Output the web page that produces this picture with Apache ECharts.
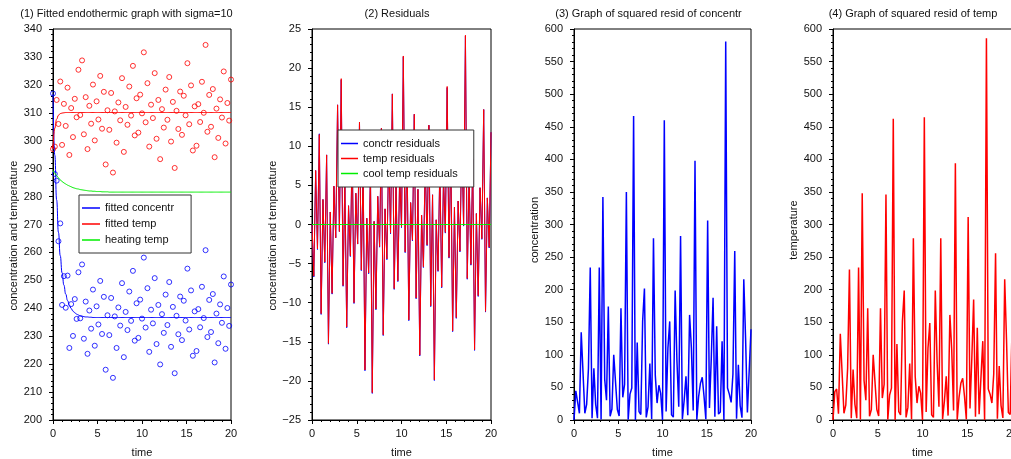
<!DOCTYPE html>
<html>
<head>
<meta charset="utf-8">
<title>Endothermic fit and residuals</title>
<script src="https://cdn.jsdelivr.net/npm/echarts@6/dist/echarts.min.js"></script>
<style>
  html, body { margin: 0; padding: 0; background: #fff; }
  #chart { width: 1011px; height: 459px; }
</style>
</head>
<body>
<div id="chart"></div>
<script>
// Sampling times of the measurements (0 .. 20, 99 samples)
const time = [
  0.000, 0.204, 0.408, 0.612, 0.816, 1.020, 1.224, 1.429, 1.633, 1.837,
  2.041, 2.245, 2.449, 2.653, 2.857, 3.061, 3.265, 3.469, 3.673, 3.878,
  4.082, 4.286, 4.490, 4.694, 4.898, 5.102, 5.306, 5.510, 5.714, 5.918,
  6.122, 6.327, 6.531, 6.735, 6.939, 7.143, 7.347, 7.551, 7.755, 7.959,
  8.163, 8.367, 8.571, 8.776, 8.980, 9.184, 9.388, 9.592, 9.796, 10.000,
  10.204, 10.408, 10.612, 10.816, 11.020, 11.224, 11.429, 11.633, 11.837, 12.041,
  12.245, 12.449, 12.653, 12.857, 13.061, 13.265, 13.469, 13.673, 13.878, 14.082,
  14.286, 14.490, 14.694, 14.898, 15.102, 15.306, 15.510, 15.714, 15.918, 16.122,
  16.327, 16.531, 16.735, 16.939, 17.143, 17.347, 17.551, 17.755, 17.959, 18.163,
  18.367, 18.571, 18.776, 18.980, 19.184, 19.388, 19.592, 19.796, 20.000
];

// Fitted model curves at the sampling times
const fittedConcentr = [
  316.9, 294.8, 278.8, 267.2, 258.8, 252.7, 248.3, 245.1, 242.8, 241.1,
  239.9, 239.0, 238.4, 237.9, 237.6, 237.3, 237.2, 237.0, 236.9, 236.9,
  236.8, 236.8,
  236.7, 236.7, 236.7, 236.7, 236.7, 236.7, 236.7, 236.7, 236.7, 236.7, 236.7,
  236.7, 236.7, 236.7, 236.7, 236.7, 236.7, 236.7, 236.7, 236.7, 236.7, 236.7,
  236.7, 236.7, 236.7, 236.7, 236.7, 236.7, 236.7, 236.7, 236.7, 236.7, 236.7,
  236.7, 236.7, 236.7, 236.7, 236.7, 236.7, 236.7, 236.7, 236.7, 236.7, 236.7,
  236.7, 236.7, 236.7, 236.7, 236.7, 236.7, 236.7, 236.7, 236.7, 236.7, 236.7,
  236.7, 236.7, 236.7, 236.7, 236.7, 236.7, 236.7, 236.7, 236.7, 236.7, 236.7,
  236.7, 236.7, 236.7, 236.7, 236.7, 236.7, 236.7, 236.7, 236.7, 236.7, 236.7
];
const fittedTemp = [
  297.0, 304.5, 307.7, 309.1, 309.7, 309.9, 310.0,
  310.1, 310.1, 310.1, 310.1, 310.1, 310.1, 310.1, 310.1, 310.1, 310.1, 310.1,
  310.1, 310.1, 310.1, 310.1, 310.1, 310.1, 310.1, 310.1, 310.1, 310.1, 310.1,
  310.1, 310.1, 310.1, 310.1, 310.1, 310.1, 310.1, 310.1, 310.1, 310.1, 310.1,
  310.1, 310.1, 310.1, 310.1, 310.1, 310.1, 310.1, 310.1, 310.1, 310.1, 310.1,
  310.1, 310.1, 310.1, 310.1, 310.1, 310.1, 310.1, 310.1, 310.1, 310.1, 310.1,
  310.1, 310.1, 310.1, 310.1, 310.1, 310.1, 310.1, 310.1, 310.1, 310.1, 310.1,
  310.1, 310.1, 310.1, 310.1, 310.1, 310.1, 310.1, 310.1, 310.1, 310.1, 310.1,
  310.1, 310.1, 310.1, 310.1, 310.1, 310.1, 310.1, 310.1, 310.1, 310.1, 310.1,
  310.1, 310.1, 310.1, 310.1
];
const heatingTemp = [
  289.4, 288.4, 287.5, 286.7, 286.0, 285.4, 284.9, 284.5, 284.1, 283.8,
  283.5, 283.2, 283.0, 282.8, 282.7, 282.5, 282.4, 282.3, 282.2, 282.1,
  282.0, 282.0, 281.9, 281.9, 281.8, 281.8, 281.8, 281.7, 281.7, 281.7, 281.7,
  281.6, 281.6, 281.6, 281.6, 281.6, 281.6, 281.6, 281.6, 281.6, 281.6, 281.6,
  281.6, 281.6, 281.6, 281.6, 281.6, 281.6, 281.6, 281.6, 281.6, 281.6, 281.6,
  281.6, 281.6, 281.6, 281.6, 281.6, 281.6, 281.6, 281.6, 281.6, 281.6, 281.6,
  281.6, 281.6, 281.6, 281.6, 281.6, 281.6, 281.6, 281.6, 281.6, 281.6, 281.6,
  281.6, 281.6, 281.6, 281.6, 281.6, 281.6, 281.6, 281.6, 281.6, 281.6, 281.6,
  281.6, 281.6, 281.6, 281.6, 281.6, 281.6, 281.6, 281.6, 281.6, 281.6, 281.6,
  281.6, 281.6
];

// Residuals (measurement minus fitted value)
const concResid = [
  0.0, -6.7, 6.9, -3.2, 11.6, -11.5, 3.2, -4.9, 8.9, -15.3,
  1.6, -8.9, 4.9, -1.7, 15.3, -0.9, 18.5, -7.9, 5.5, -13.2,
  2.4, -4.1, 10.0, -10.1, 4.0, -2.5, 13.1, -5.9, 7.4, -18.7,
  0.8, -6.3, 7.0, -21.6, 0.4, -10.9, 3.6, -2.9, 12.3, -14.2,
  2.0, -4.5, 9.3, -1.2, 16.7, -8.3, 5.1, -7.3, 6.4, -0.4,
  21.45, -3.6, 10.5, -12.3, 2.8, -2.1, 14.1, -9.5, 4.5, -16.8,
  1.2, -5.5, 8.2, -2.7, 12.7, -10.5, 3.8, -19.95, 0.6, -6.0,
  7.5, -8.1, 6.0, -1.1, 17.5, -4.3, 9.7, -13.7, 2.2, -12.0,
  3.0, -3.5, 11.0, -0.2, 24.1, -7.0, 6.3, -5.2, 8.4, -16.1,
  1.4, -9.2, 4.7, -1.9, 14.7, -11.2, 3.4, -3.0, 11.8
];
const tempResid = [
  0.0, -6.6, 6.9, -3.1, 11.5, -11.4, 3.2, -4.8, 8.9, -15.2,
  1.6, -8.8, 4.9, -1.7, 15.3, -0.9, 18.65, -7.8, 5.5, -13.1,
  2.4, -4.0, 10.0, -10.0, 4.0, -2.5, 13.1, -5.8, 7.4, -18.6,
  0.8, -6.2, 7.0, -21.5, 0.4, -10.8, 3.6, -2.8, 12.3, -14.1,
  2.0, -4.4, 9.3, -1.1, 16.7, -8.2, 5.1, -7.2, 6.4, -0.3,
  21.55, -3.5, 10.5, -12.2, 2.8, -2.0, 14.1, -9.4, 4.5, -16.7,
  1.2, -5.4, 8.2, -2.6, 12.7, -10.4, 3.8, -19.85, 0.6, -5.9,
  7.5, -8.0, 6.0, -1.0, 17.65, -4.2, 9.7, -13.6, 2.2, -11.9,
  3.0, -3.4, 11.0, -0.1, 24.2, -6.9, 6.3, -5.1, 8.4, -16.0,
  1.4, -9.1, 4.7, -1.8, 14.7, -11.1, 3.4, -2.9, 11.8
];
const coolTempResid = [
  0, 0, 0, 0, 0, 0, 0, 0, 0, 0, 0, 0, 0, 0, 0, 0, 0, 0, 0, 0,
  0, 0, 0, 0, 0, 0, 0, 0, 0, 0, 0, 0, 0, 0, 0, 0, 0, 0, 0, 0,
  0, 0, 0, 0, 0, 0, 0, 0, 0, 0, 0, 0, 0, 0, 0, 0, 0, 0, 0, 0,
  0, 0, 0, 0, 0, 0, 0, 0, 0, 0, 0, 0, 0, 0, 0, 0, 0, 0, 0, 0,
  0, 0, 0, 0, 0, 0, 0, 0, 0, 0, 0, 0, 0, 0, 0, 0, 0, 0, 0
];

const panelTitles = [
  '(1) Fitted endothermic graph with sigma=10',
  '(2) Residuals',
  '(3) Graph of squared resid of concentr',
  '(4) Graph of squared resid of temp'
];
const yNames = ['concentration and temperature', 'concentration and temperature', 'concentration', 'temperature'];

// Derived series: measurements and squared residuals
const measuredConcentr = fittedConcentr.map((f, i) => f + concResid[i]);
const measuredTemp = fittedTemp.map((f, i) => f + tempResid[i]);
const concSquared = concResid.map(r => r * r);
const tempSquared = tempResid.map(r => r * r);

const pts = ys => ys.map((y, i) => [time[i], y]);

const FONT = '"Liberation Sans", Arial, Helvetica, sans-serif';
const TXT = '#111';
const BLUE = '#0000ff', RED = '#ff0000', GREEN = '#00ee00';

const gridBoxes = [
  { left: 53, top: 29, width: 178, height: 391 },
  { left: 312, top: 29, width: 179, height: 391 },
  { left: 574, top: 29, width: 177, height: 391 },
  { left: 833, top: 29, width: 179, height: 391 }
];
const titleCenters = [126.5, 397, 648.5, 913];
// extra right padding on the rotated y names moves them a little below the axis middle
const yNameShift = [22, 22, 11, 11];
const yRanges = [
  { min: 200, max: 340, interval: 10 },
  { min: -25, max: 25, interval: 5 },
  { min: 0, max: 600, interval: 50 },
  { min: 0, max: 600, interval: 50 }
];

const fmt = v => (v < 0 ? '\u2212' + Math.abs(v) : String(v));

const legendBase = {
  orient: 'vertical', icon: 'rect', itemWidth: 18, itemHeight: 1.5, itemGap: 0,
  backgroundColor: '#fff', borderColor: '#333', borderWidth: 1,
  selectedMode: false
};

const option = {
  animation: false,
  backgroundColor: '#fff',
  textStyle: { fontFamily: FONT },
  title: panelTitles.map((t, k) => ({
    text: t, left: titleCenters[k], top: 8, textAlign: 'center', padding: 0,
    textStyle: { fontSize: 11, fontWeight: 'normal', color: TXT, fontFamily: FONT }
  })),
  grid: gridBoxes.map(g => Object.assign({
    show: true, borderColor: '#000', borderWidth: 1, backgroundColor: 'transparent',
    containLabel: false, outerBoundsMode: 'none'
  }, g)),
  xAxis: gridBoxes.map((g, k) => ({
    type: 'value', gridIndex: k, min: 0, max: 20, interval: 5,
    name: 'time', nameLocation: 'middle', nameGap: 27,
    nameTextStyle: { fontSize: 11, color: TXT, fontFamily: FONT },
    axisLine: { onZero: false, lineStyle: { color: '#000', width: 1 } },
    axisTick: { length: 4, lineStyle: { color: '#000' } },
    minorTick: { show: true, splitNumber: 5, length: 2, lineStyle: { color: '#000' } },
    axisLabel: { margin: 8, fontSize: 11, color: TXT, fontFamily: FONT, formatter: fmt },
    splitLine: { show: false }
  })),
  yAxis: gridBoxes.map((g, k) => ({
    type: 'value', gridIndex: k,
    min: yRanges[k].min, max: yRanges[k].max, interval: yRanges[k].interval,
    name: yNames[k], nameLocation: 'middle', nameGap: 33,
    nameTextStyle: { fontSize: 11, color: TXT, fontFamily: FONT, padding: [0, yNameShift[k], 0, 0] },
    axisLine: { onZero: false, lineStyle: { color: '#000', width: 1 } },
    axisTick: { length: 4, lineStyle: { color: '#000' } },
    minorTick: { show: true, splitNumber: 5, length: 2, lineStyle: { color: '#000' } },
    axisLabel: { margin: 11, fontSize: 11, color: TXT, fontFamily: FONT, formatter: fmt },
    splitLine: { show: false }
  })),
  legend: [
    Object.assign({}, legendBase, {
      data: ['fitted concentr', 'fitted temp', 'heating temp'],
      left: 79, top: 195,
      padding: [5, 17, 5, 3],
      textStyle: { fontSize: 11, lineHeight: 16, color: TXT, fontFamily: FONT }
    }),
    Object.assign({}, legendBase, {
      data: ['conctr residuals', 'temp residuals', 'cool temp residuals'],
      left: 338, top: 130, itemWidth: 17,
      padding: [6, 16, 6, 3],
      textStyle: { fontSize: 11, lineHeight: 15, color: TXT, fontFamily: FONT }
    })
  ],
  series: [
    // (1) measurements and fitted curves
    {
      name: 'measured temp', type: 'scatter', xAxisIndex: 0, yAxisIndex: 0,
      data: pts(measuredTemp), symbol: 'circle', symbolSize: 5, clip: false,
      itemStyle: { color: 'rgba(0,0,0,0)', borderColor: RED, borderWidth: 1 }
    },
    {
      name: 'measured concentr', type: 'scatter', xAxisIndex: 0, yAxisIndex: 0,
      data: pts(measuredConcentr), symbol: 'circle', symbolSize: 5, clip: false,
      itemStyle: { color: 'rgba(0,0,0,0)', borderColor: BLUE, borderWidth: 1 }
    },
    {
      name: 'fitted concentr', type: 'line', xAxisIndex: 0, yAxisIndex: 0,
      data: pts(fittedConcentr), symbol: 'none', smooth: 0.5, smoothMonotone: 'x',
      lineStyle: { color: BLUE, width: 1 }, itemStyle: { color: BLUE }
    },
    {
      name: 'fitted temp', type: 'line', xAxisIndex: 0, yAxisIndex: 0,
      data: pts(fittedTemp), symbol: 'none', smooth: 0.5, smoothMonotone: 'x',
      lineStyle: { color: RED, width: 1 }, itemStyle: { color: RED }
    },
    {
      name: 'heating temp', type: 'line', xAxisIndex: 0, yAxisIndex: 0,
      data: pts(heatingTemp), symbol: 'none', smooth: 0.5, smoothMonotone: 'x',
      lineStyle: { color: GREEN, width: 1 }, itemStyle: { color: GREEN }
    },
    // (2) residuals
    {
      name: 'conctr residuals', type: 'line', xAxisIndex: 1, yAxisIndex: 1,
      data: pts(concResid), symbol: 'none',
      lineStyle: { color: BLUE, width: 1 }, itemStyle: { color: BLUE }
    },
    {
      name: 'temp residuals', type: 'line', xAxisIndex: 1, yAxisIndex: 1,
      data: pts(tempResid), symbol: 'none',
      lineStyle: { color: RED, width: 1 }, itemStyle: { color: RED }
    },
    {
      name: 'cool temp residuals', type: 'line', xAxisIndex: 1, yAxisIndex: 1,
      data: pts(coolTempResid), symbol: 'none',
      lineStyle: { color: GREEN, width: 1 }, itemStyle: { color: GREEN }
    },
    // (3) squared concentration residuals
    {
      name: 'squared conctr residuals', type: 'line', xAxisIndex: 2, yAxisIndex: 2,
      data: pts(concSquared), symbol: 'none',
      lineStyle: { color: BLUE, width: 1.5 }, itemStyle: { color: BLUE }
    },
    // (4) squared temperature residuals
    {
      name: 'squared temp residuals', type: 'line', xAxisIndex: 3, yAxisIndex: 3,
      data: pts(tempSquared), symbol: 'none',
      lineStyle: { color: RED, width: 1.5 }, itemStyle: { color: RED }
    }
  ]
};

const chart = echarts.init(document.getElementById('chart'), null, { renderer: 'canvas' });
chart.setOption(option);
</script>
</body>
</html>
